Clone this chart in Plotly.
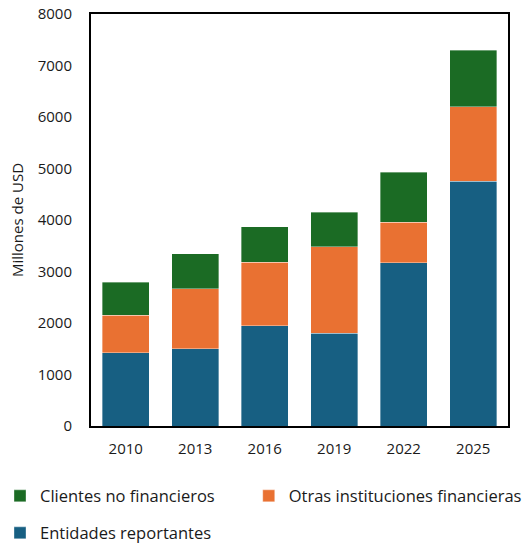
import plotly.graph_objects as go

years = ["2010", "2013", "2016", "2019", "2022", "2025"]
entidades = [1423, 1501, 1942, 1799, 3171, 4757]
otras = [732, 1165, 1236, 1683, 790, 1443]
clientes = [641, 680, 693, 667, 971, 1101]
y_ticks = [0, 1000, 2000, 3000, 4000, 5000, 6000, 7000, 8000]

FONT = "Open Sans"
edge = dict(color="rgba(255,255,255,0.6)", width=0.6)

fig = go.Figure()
fig.add_trace(go.Bar(name="Entidades reportantes", x=years, y=entidades,
                     marker_color="#175F82", marker_line=edge, legend="legend3"))
fig.add_trace(go.Bar(name="Otras instituciones financieras", x=years, y=otras,
                     marker_color="#E97132", marker_line=edge, legend="legend2"))
fig.add_trace(go.Bar(name="Clientes no financieros", x=years, y=clientes,
                     marker_color="#1B6B24", marker_line=edge, legend="legend4"))

leg = dict(orientation="h", xref="container", yref="container", visible=True,
           xanchor="left", yanchor="middle", font=dict(size=16.5))

fig.update_layout(
    width=527, height=544,
    barmode="stack", bargap=0.33,
    plot_bgcolor="white", paper_bgcolor="white",
    margin=dict(l=91, r=19, t=14, b=118, autoexpand=False),
    font=dict(family=FONT, size=15, color="#1a1a1a"),
    showlegend=True,
    legend4=dict(leg, x=-0.015, y=0.088),
    legend2=dict(leg, x=0.472, y=0.088),
    legend3=dict(leg, x=-0.015, y=0.02),
)
fig.update_yaxes(range=[0, 8000], tickvals=y_ticks, showgrid=False,
                 showline=True, linecolor="black", linewidth=2, mirror=True,
                 ticks="", ticklabelstandoff=14,
                 title=dict(text="Millones de USD", font=dict(size=15), standoff=10))
fig.update_xaxes(showline=True, linecolor="black", linewidth=2, mirror=True,
                 ticks="", ticklabelstandoff=8)

fig.write_html("out.html", config={"displayModeBar": False},
               post_script="document.body.style.margin='0';")
